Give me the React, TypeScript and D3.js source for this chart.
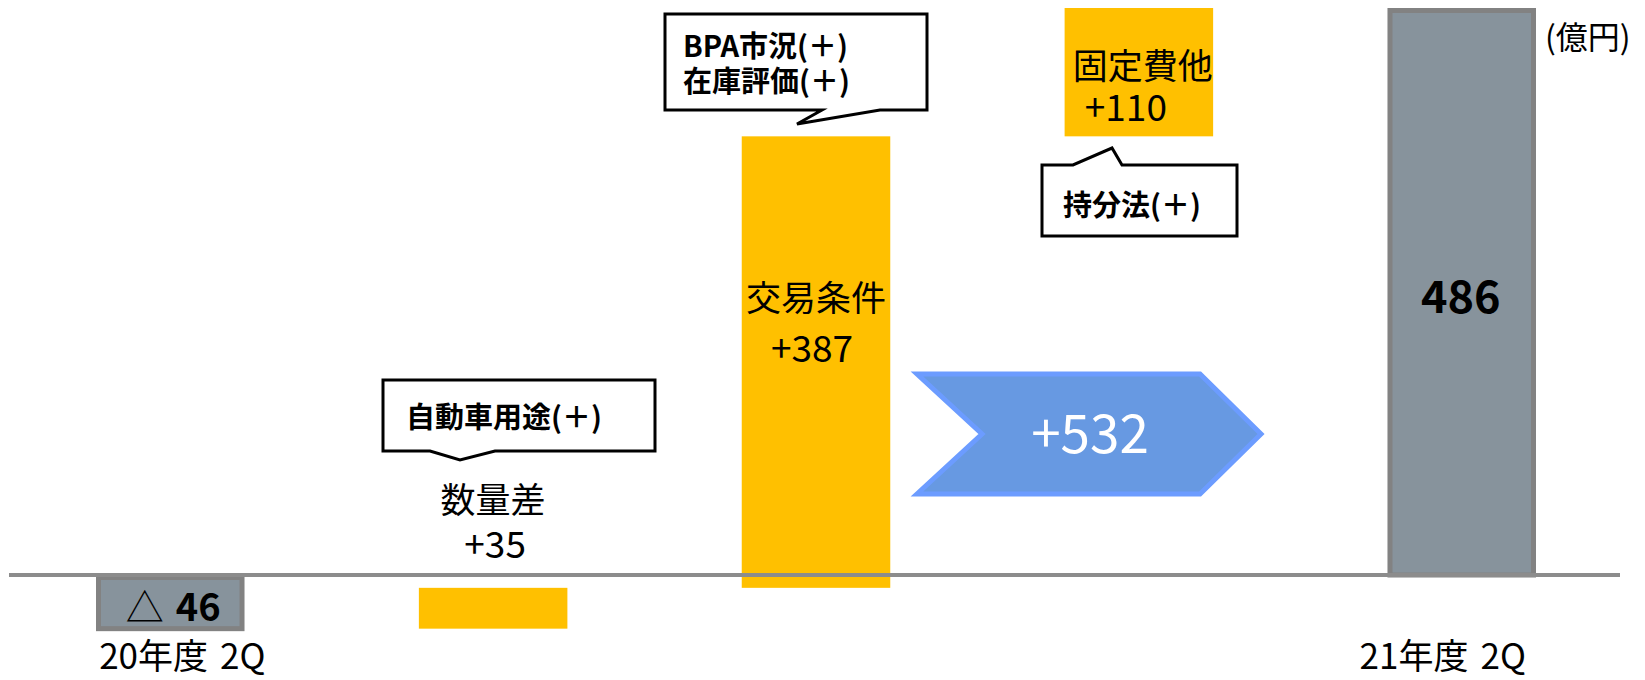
import React, { useEffect } from 'react'
import * as d3 from 'd3'

// waterfall: 20年度2Q → 21年度2Q (億円)
const categories = ['20年度 2Q', '数量差', '交易条件', '固定費他', '21年度 2Q']
const kinds = ['total', 'delta', 'delta', 'delta', 'total']
const values = [-46, 35, 387, 110, 486]
const valueLabels = ['46', '+35', '+387', '+110', '486']
const stepNames = ['', '数量差', '交易条件', '固定費他', '']
const totalChange = 532
const unitLabel = '(億円)'

const W = 1645
const H = 680
const FONT = '"Noto Sans CJK JP", "Noto Sans", sans-serif'
const GRAY_FILL = '#87939c'
const GRAY_STROKE = '#828282'
const YELLOW = '#ffc000'

const App: React.FC = () => {
  useEffect(() => {
    document.body.style.margin = '0'
  }, [])

  const x = d3.scaleBand<string>()
    .domain(categories)
    .range([96, 1536])
    .paddingInner(0.54)
    .paddingOuter(0)

  const y = d3.scaleLinear()
    .domain([0, 486])
    .range([575, 8])

  // running totals for the floating bars
  let running = 0
  const bars = categories.map((c, i) => {
    let y0: number, y1: number
    if (kinds[i] === 'total') {
      y0 = 0
      y1 = values[i]
      running = values[i]
    } else {
      y0 = running
      y1 = running + values[i]
      running = y1
    }
    return { cat: c, kind: kinds[i], lo: Math.min(y0, y1), hi: Math.max(y0, y1) }
  })

  const cx = (i: number) => (x(categories[i]) as number) + x.bandwidth() / 2

  // split "20年度 2Q" so the gap can be widened like the original
  const catParts = (s: string) => s.split(' ')

  // chevron arrow for the total change
  const ax0 = 917, ax1 = 1200, atip = 1261, ay0 = 374, ay1 = 494, anotch = 982
  const arrowPath = `M${ax0},${ay0} L${ax1},${ay0} L${atip},${(ay0 + ay1) / 2} L${ax1},${ay1} L${ax0},${ay1} L${anotch},${(ay0 + ay1) / 2} Z`

  return (
    <svg width={W} height={H} style={{ display: 'block', fontFamily: FONT }}>
      {bars.map((b) => {
        const bx = x(b.cat) as number
        const bw = x.bandwidth()
        if (b.kind === 'total') {
          return (
            <rect key={b.cat} x={bx + 2.5} y={y(b.hi) + 2.5} width={bw - 5} height={y(b.lo) - y(b.hi) - 2.5}
              fill={GRAY_FILL} stroke={GRAY_STROKE} strokeWidth={5} />
          )
        }
        return (
          <rect key={b.cat} x={bx} y={y(b.hi)} width={bw} height={y(b.lo) - y(b.hi)} fill={YELLOW} />
        )
      })}

      {/* zero line */}
      <line x1={9} x2={1620} y1={y(0)} y2={y(0)} stroke="#8c8c8c" strokeWidth={4} />

      {/* total change arrow */}
      <path d={arrowPath} fill="#6799e2" stroke="#6c9cff" strokeWidth={5} strokeLinejoin="miter" />
      <text x={1090} y={453} textAnchor="middle" fill="#fff" fontSize={53}>+{totalChange}</text>

      {/* bar labels */}
      <text x={cx(0) + 3} y={621} textAnchor="middle" fontSize={38} fill="#000">
        <tspan>△</tspan><tspan dx={12} fontWeight="bold">{valueLabels[0]}</tspan>
      </text>
      <text x={cx(1)} y={513} textAnchor="middle" fontSize={35}>{stepNames[1]}</text>
      <text x={cx(1) + 2} y={558} textAnchor="middle" fontSize={37}>{valueLabels[1]}</text>
      <text x={cx(2)} y={311} textAnchor="middle" fontSize={35}>{stepNames[2]}</text>
      <text x={cx(2) - 4} y={362} textAnchor="middle" fontSize={37}>{valueLabels[2]}</text>
      <text x={cx(3) + 4} y={79} textAnchor="middle" fontSize={35}>{stepNames[3]}</text>
      <text x={cx(3) - 13} y={121} textAnchor="middle" fontSize={37}>{valueLabels[3]}</text>
      <text x={cx(4) - 1} y={313} textAnchor="middle" fontSize={45} fontWeight="bold">{valueLabels[4]}</text>

      {/* category labels */}
      <text x={cx(0) + 12} y={669} textAnchor="middle" fontSize={35}>
        <tspan>{catParts(categories[0])[0]}</tspan><tspan dx={12}>{catParts(categories[0])[1]}</tspan>
      </text>
      <text x={cx(4) - 19} y={669} textAnchor="middle" fontSize={35}>
        <tspan>{catParts(categories[4])[0]}</tspan><tspan dx={12}>{catParts(categories[4])[1]}</tspan>
      </text>
      <text x={1545} y={49} fontSize={32}>{unitLabel}</text>

      {/* callouts */}
      <path d="M383,380 L655,380 L655,451 L495,451 L460,460 L430,451 L383,451 Z"
        fill="#fff" stroke="#000" strokeWidth={3} />
      <text x={406} y={428} fontSize={29} fontWeight="bold">自動車用途(＋)</text>

      <path d="M665,14 L927,14 L927,110 L880,110 L797,124 L822,110 L665,110 Z"
        fill="#fff" stroke="#000" strokeWidth={3} />
      <text x={683} y={57} fontSize={29} fontWeight="bold">BPA市況(＋)</text>
      <text x={683} y={92} fontSize={29} fontWeight="bold">在庫評価(＋)</text>

      <path d="M1042,165 L1073,165 L1112,148 L1122,165 L1237,165 L1237,236 L1042,236 Z"
        fill="#fff" stroke="#000" strokeWidth={3} />
      <text x={1063} y={216} fontSize={29} fontWeight="bold">持分法(＋)</text>
    </svg>
  )
}

export default App
